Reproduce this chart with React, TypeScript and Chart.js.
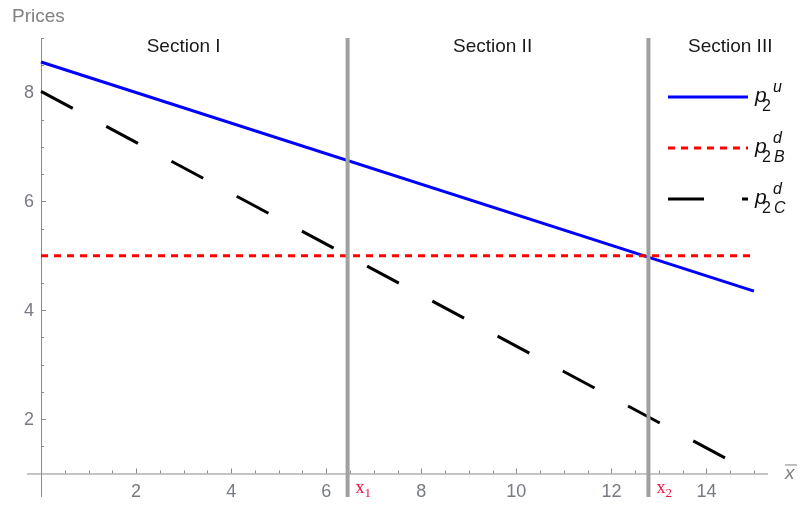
import React, { useEffect, useRef } from "react";
import { Chart, registerables } from "chart.js";

Chart.register(...registerables);

// ---- data ----
const xEnds = [0, 15];
const pU = [8.56, 4.35];
const pB = [5, 5];
const pC = [8.02, 1.0];
const sectionBounds = [6.45, 12.78];
const boundSubs = ["1", "2"];
const sectionNames = ["Section I", "Section II", "Section III"];
const sectionX = [3, 9.5, 14.5];
const sectionY = 8.87;
const xTickLabels = [2, 4, 6, 8, 10, 12, 14];
const yTickLabels = [2, 4, 6, 8];
const X_MIN = -0.295;
const X_MAX = 15.295;
const Y_MIN = 0.568;
const Y_MAX = 9.0;
const AXIS_X_AT = 0; // y-axis drawn at x = 0
const AXIS_Y_AT = 1; // x-axis drawn at y = 1

const legendItems = [
  { sup: "u", sub: "", color: "#0000ff", dash: [] as number[] },
  { sup: "d", sub: "B", color: "#ff0000", dash: [7, 6] },
  { sup: "d", sub: "C", color: "#000000", dash: [36, 38] },
];

const FONT = "'Liberation Sans', Arial, sans-serif";
const SERIF = "'Liberation Serif', 'Times New Roman', serif";

const overlayPlugin = {
  id: "overlay",
  beforeDatasetsDraw(chart: any) {
    const { ctx } = chart;
    const xs = chart.scales.x;
    const ys = chart.scales.y;
    const ox = xs.getPixelForValue(AXIS_X_AT);
    const oy = ys.getPixelForValue(AXIS_Y_AT);
    ctx.save();
    ctx.strokeStyle = "#8a8a8a";
    ctx.lineWidth = 1;
    // x axis
    ctx.beginPath();
    ctx.moveTo(xs.left, oy + 0.5);
    ctx.lineTo(xs.right, oy + 0.5);
    ctx.stroke();
    // y axis
    ctx.beginPath();
    ctx.moveTo(ox + 0.5, ys.top);
    ctx.lineTo(ox + 0.5, ys.bottom);
    ctx.stroke();
    // x ticks
    for (let v = 0.5; v <= X_MAX + 1e-6; v += 0.5) {
      const px = Math.round(xs.getPixelForValue(v)) + 0.5;
      const major = Math.abs(v / 2 - Math.round(v / 2)) < 1e-6;
      ctx.beginPath();
      ctx.moveTo(px, oy);
      ctx.lineTo(px, oy - (major ? 5 : 3));
      ctx.stroke();
    }
    // y ticks
    for (let v = 1.5; v <= Y_MAX + 1e-6; v += 0.5) {
      const py = Math.round(ys.getPixelForValue(v)) + 0.5;
      const major = Math.abs(v / 2 - Math.round(v / 2)) < 1e-6;
      ctx.beginPath();
      ctx.moveTo(ox, py);
      ctx.lineTo(ox + (major ? 5 : 3), py);
      ctx.stroke();
    }
    // tick labels
    ctx.fillStyle = "#767b82";
    ctx.font = `18px ${FONT}`;
    ctx.textAlign = "center";
    ctx.textBaseline = "alphabetic";
    xTickLabels.forEach((v) => {
      ctx.fillText(String(v), xs.getPixelForValue(v), oy + 23.5);
    });
    ctx.textAlign = "right";
    ctx.textBaseline = "middle";
    yTickLabels.forEach((v) => {
      ctx.fillText(String(v), ox - 7, ys.getPixelForValue(v) + 1);
    });
    ctx.restore();
  },
  afterDatasetsDraw(chart: any) {
    const { ctx } = chart;
    const xs = chart.scales.x;
    const ys = chart.scales.y;
    const oy = ys.getPixelForValue(AXIS_Y_AT);
    ctx.save();
    // Prices label
    ctx.fillStyle = "#808080";
    ctx.font = `19px ${FONT}`;
    ctx.textAlign = "left";
    ctx.textBaseline = "alphabetic";
    ctx.fillText("Prices", 12, 22);
    // x-bar label
    ctx.font = `italic 19px ${FONT}`;
    ctx.fillText("x", 785, oy + 6);
    ctx.strokeStyle = "#808080";
    ctx.lineWidth = 1;
    ctx.beginPath();
    ctx.moveTo(785, oy - 8.5);
    ctx.lineTo(797, oy - 8.5);
    ctx.stroke();
    // section labels
    ctx.fillStyle = "#1a1a1a";
    ctx.font = `19px ${FONT}`;
    ctx.textAlign = "center";
    sectionNames.forEach((s, i) => {
      ctx.fillText(s, xs.getPixelForValue(sectionX[i]), ys.getPixelForValue(sectionY) + 7);
    });
    // x1 / x2 labels
    ctx.fillStyle = "#ee1144";
    ctx.textAlign = "left";
    sectionBounds.forEach((b, i) => {
      const px = xs.getPixelForValue(b);
      ctx.font = `18px ${SERIF}`;
      ctx.fillText("x", px + 8, oy + 20);
      ctx.font = `13px ${SERIF}`;
      ctx.fillText(boundSubs[i], px + 17, oy + 24);
    });
    // legend
    const rows = [97, 148, 199];
    legendItems.forEach((it, i) => {
      const yc = rows[i];
      ctx.strokeStyle = it.color;
      ctx.lineWidth = 3;
      ctx.setLineDash(it.dash);
      ctx.beginPath();
      ctx.moveTo(668, yc);
      ctx.lineTo(748, yc);
      ctx.stroke();
      ctx.setLineDash([]);
      ctx.fillStyle = "#111";
      ctx.textAlign = "left";
      ctx.font = `italic 21px ${FONT}`;
      ctx.fillText("p", 755, yc + 5);
      ctx.font = `16px ${FONT}`;
      ctx.fillText("2", 762, yc + 14);
      ctx.font = `italic 16px ${FONT}`;
      ctx.fillText(it.sup, 773, yc - 5);
      if (it.sub) ctx.fillText(it.sub, 774, yc + 14);
    });
    ctx.restore();
  },
};

export default function App() {
  const ref = useRef<HTMLCanvasElement | null>(null);
  useEffect(() => {
    document.body.style.margin = "0";
    const canvas = ref.current!;
    const pts = (ys: number[]) => xEnds.map((x, i) => ({ x, y: ys[i] }));
    const chart = new Chart(canvas, {
      type: "line",
      data: {
        datasets: [
          ...sectionBounds.map((b) => ({
            label: "bound",
            data: [
              { x: b, y: Y_MIN },
              { x: b, y: Y_MAX },
            ],
            borderColor: "#a0a0a0",
            borderWidth: 4,
            pointRadius: 0,
            fill: false,
          })),
          {
            label: "pB",
            data: pts(pB),
            borderColor: "#ff0000",
            borderWidth: 3,
            borderDash: [7, 6],
            pointRadius: 0,
            fill: false,
          },
          {
            label: "pC",
            data: pts(pC),
            borderColor: "#000000",
            borderWidth: 3,
            borderDash: [36, 38],
            pointRadius: 0,
            fill: false,
          },
          {
            label: "pU",
            data: pts(pU),
            borderColor: "#0000ff",
            borderWidth: 3,
            pointRadius: 0,
            fill: false,
          },
        ],
      },
      options: {
        animation: false,
        responsive: false,
        events: [],
        layout: { padding: { left: 27, right: 32, top: 38, bottom: 8 } },
        plugins: { legend: { display: false }, tooltip: { enabled: false } },
        scales: {
          x: { type: "linear", min: X_MIN, max: X_MAX, display: false },
          y: { type: "linear", min: Y_MIN, max: Y_MAX, display: false },
        },
      },
      plugins: [overlayPlugin],
    });
    return () => chart.destroy();
  }, []);
  return (
    <div style={{ position: "absolute", left: 0, top: 0, width: 800, height: 505, background: "#fff" }}>
      <canvas ref={ref} width={800} height={505} />
    </div>
  );
}
